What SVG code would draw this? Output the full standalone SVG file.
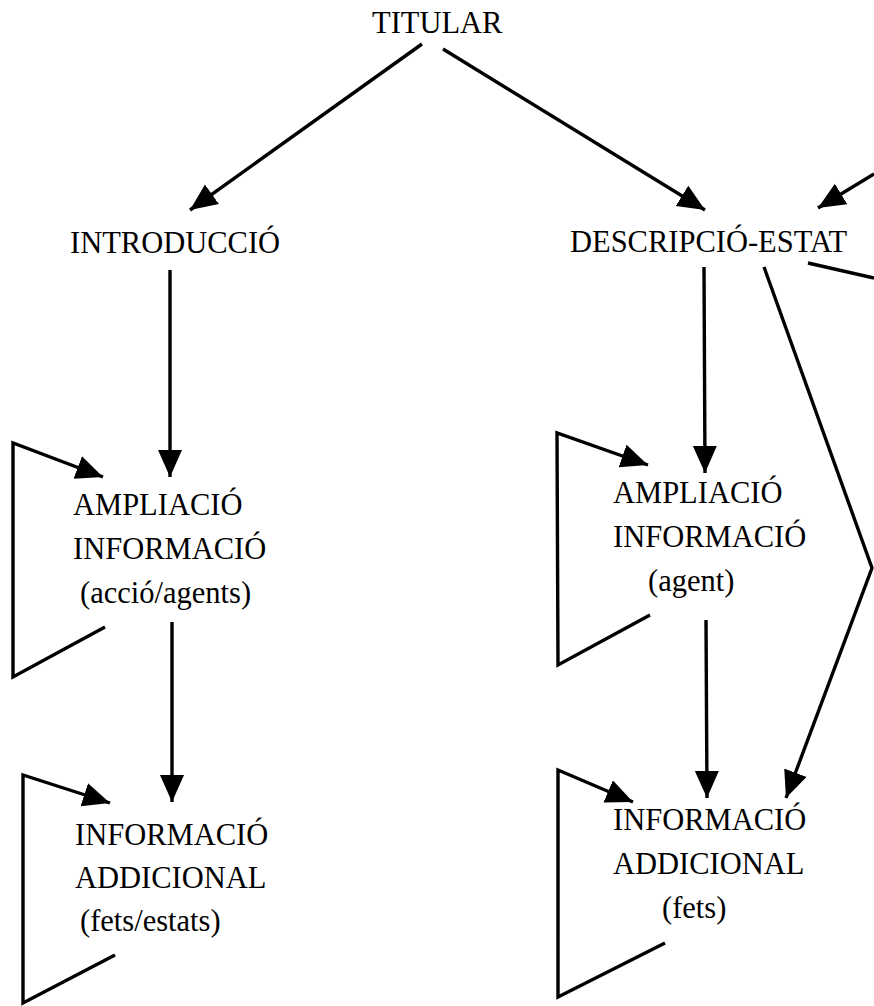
<svg xmlns="http://www.w3.org/2000/svg" width="874" height="1006" viewBox="0 0 874 1006">
  <style>
    .lbl { font-family: "Liberation Serif", "Times New Roman", serif; font-size: 30.5px; fill: #000; }
    .ln { stroke: #000; stroke-width: 3.4; fill: none; stroke-linejoin: miter; }
  </style>
  <defs>
    <marker id="ah" markerUnits="userSpaceOnUse" markerWidth="30" markerHeight="26" refX="27" refY="12" orient="auto">
      <path d="M0,0 L27,12 L0,24 Z" fill="#000"/>
    </marker>
  </defs>
  <rect width="874" height="1006" fill="#fff"/>

  <g id="connectors">
    <line class="ln" x1="422" y1="44" x2="190" y2="210" marker-end="url(#ah)"/>
    <line class="ln" x1="443" y1="49" x2="705" y2="210" marker-end="url(#ah)"/>
    <line class="ln" x1="874" y1="174" x2="818" y2="208" marker-end="url(#ah)"/>
    <line class="ln" x1="808" y1="263" x2="874" y2="278"/>
    <line class="ln" x1="170" y1="270" x2="170" y2="477" marker-end="url(#ah)"/>
    <line class="ln" x1="704" y1="267" x2="705" y2="473" marker-end="url(#ah)"/>
    <line class="ln" x1="172" y1="622" x2="172" y2="802" marker-end="url(#ah)"/>
    <line class="ln" x1="706" y1="620" x2="707" y2="798" marker-end="url(#ah)"/>
    <polyline class="ln" points="764,267 872,568 786,798" marker-end="url(#ah)"/>
    <!-- self loops -->
    <polyline class="ln" points="105,627 13,677 13,443 103,477" marker-end="url(#ah)"/>
    <polyline class="ln" points="115,955 23,1003 23,775 110,803" marker-end="url(#ah)"/>
    <polyline class="ln" points="650,615 558,665 557,433 648,465" marker-end="url(#ah)"/>
    <polyline class="ln" points="665,943 558,997 558,770 633,802" marker-end="url(#ah)"/>
  </g>

  <g id="titular"><text class="lbl" x="372" y="33">TITULAR</text></g>
  <g id="introduccio"><text class="lbl" x="70" y="253">INTRODUCCIÓ</text></g>
  <g id="descripcio-estat"><text class="lbl" x="570" y="252">DESCRIPCIÓ-ESTAT</text></g>
  <g id="ampliacio-1">
    <text class="lbl" x="73" y="515">AMPLIACIÓ</text>
    <text class="lbl" x="73" y="559">INFORMACIÓ</text>
    <text class="lbl" x="80" y="603">(acció/agents)</text>
  </g>
  <g id="ampliacio-2">
    <text class="lbl" x="613" y="503">AMPLIACIÓ</text>
    <text class="lbl" x="613" y="547">INFORMACIÓ</text>
    <text class="lbl" x="648" y="591">(agent)</text>
  </g>
  <g id="addicional-1">
    <text class="lbl" x="75" y="845">INFORMACIÓ</text>
    <text class="lbl" x="75" y="888">ADDICIONAL</text>
    <text class="lbl" x="80" y="931">(fets/estats)</text>
  </g>
  <g id="addicional-2">
    <text class="lbl" x="613" y="830">INFORMACIÓ</text>
    <text class="lbl" x="613" y="874">ADDICIONAL</text>
    <text class="lbl" x="662" y="918">(fets)</text>
  </g>
</svg>
